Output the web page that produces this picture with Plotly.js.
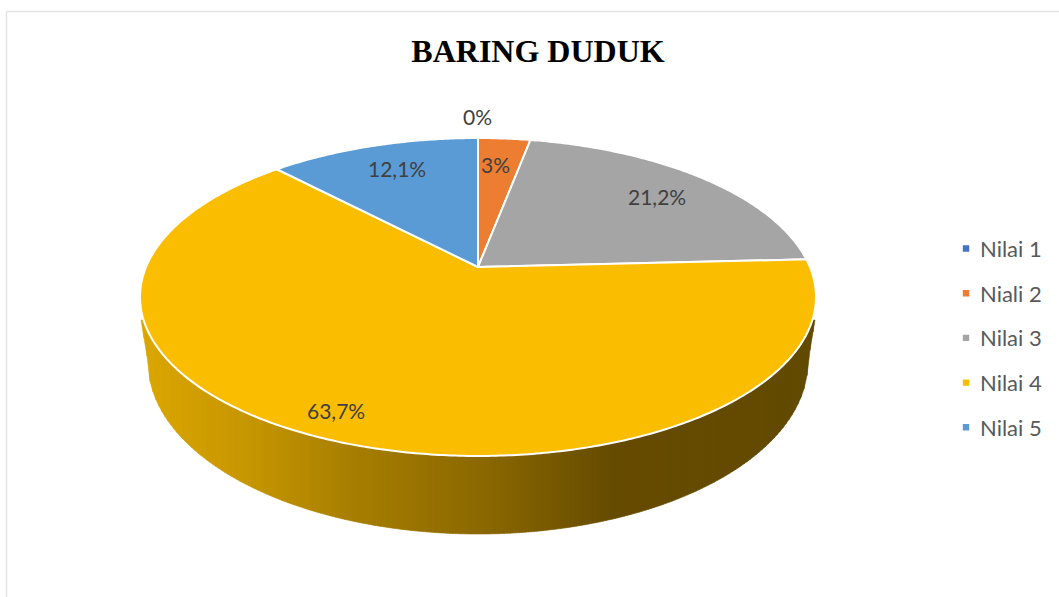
<!DOCTYPE html>
<html>
<head>
<meta charset="utf-8">
<script src="https://cdn.plot.ly/plotly-3.0.1.min.js"></script>
<style>html,body{margin:0;padding:0;background:#fff;overflow:hidden}#chart{width:1059px;height:597px}</style>
</head>
<body>
<div id="chart"></div>
<script>
// ---- data ----
var titleText = 'BARING DUDUK';
var categories = ['Nilai 1', 'Niali 2', 'Nilai 3', 'Nilai 4', 'Nilai 5'];
var percentages = [0, 3, 21.2, 63.7, 12.1];
var sliceColors = ['#4472C4', '#ED7D31', '#A5A5A5', '#FBBD00', '#5B9BD5'];

// ---- drawing constants (pixels) ----
var W = 1059, H = 597;
var apexX = 478, apexY = 267;      // where the slices meet
var persp = 0.1887, scaleY = 153.3, scaleX = 331.9;   // tilted-disc projection
var rimCy = 297, rimRx = 338, rimRy = 159;            // outline of the top face
var baseCy = 362, baseRx = 330, baseRy = 172;         // outline of the base
var wallEdgeX = 337, wallEdgeY = 320;
var wallStops = [[141,[220,167,0]],[250,[198,150,0]],[350,[168,127,0]],[480,[140,105,0]],
                 [560,[117,88,0]],[615,[101,75,0]],[815,[99,74,0]]];
var labelPos = [[477,116],[495,165],[657,196],[336,410],[397,168]];
var legendY = [248.5, 293.2, 337.9, 382.6, 427.3];

function px(x){ return x / W; }
function py(y){ return 1 - y / H; }
function project(theta){
  var x = Math.sin(theta), y = Math.cos(theta), d = 1 + persp * y;
  return [apexX + scaleX * x / d, apexY - scaleY * y / d];
}
function wallColor(x){
  for (var i = 1; i < wallStops.length; i++) {
    if (x <= wallStops[i][0]) {
      var a = wallStops[i-1], b = wallStops[i], t = (x - a[0]) / (b[0] - a[0]);
      return 'rgb(' + a[1].map(function(c, k){ return Math.round(c + (b[1][k] - c) * t); }).join(',') + ')';
    }
  }
  return 'rgb(' + wallStops[wallStops.length-1][1].join(',') + ')';
}
function wallTop(x){
  var dx = Math.abs(x - apexX);
  if (dx >= 334) return wallEdgeY;
  return rimCy + rimRy * Math.sqrt(1 - dx * dx / (rimRx * rimRx)) - 3;
}
function wallBottom(x){
  var dx = Math.abs(x - apexX);
  if (dx <= baseRx) return baseCy + baseRy * Math.sqrt(1 - dx * dx / (baseRx * baseRx));
  return baseCy + (wallEdgeY - baseCy) * Math.min(1, (dx - baseRx) / (wallEdgeX - baseRx));
}
function wallShapes(){
  var out = [], step = 3;
  for (var x = apexX - wallEdgeX; x < apexX + wallEdgeX; x += step) {
    var x2 = Math.min(x + step, apexX + wallEdgeX);
    var pts = [[x, wallTop(x)], [x2, wallTop(x2)], [x2, wallBottom(x2)], [x, wallBottom(x)]];
    var c = wallColor(x + step / 2);
    out.push({
      type: 'path', xref: 'paper', yref: 'paper', layer: 'below',
      path: 'M' + pts.map(function(p){ return px(p[0]) + ',' + py(p[1]); }).join('L') + 'Z',
      fillcolor: c, line: {color: c, width: 0.6}
    });
  }
  return out;
}
var frame = [
  {type:'line', xref:'paper', yref:'paper', x0:px(6.5), x1:1, y0:py(11.5), y1:py(11.5), line:{color:'#E4E4E4', width:1.5}},
  {type:'line', xref:'paper', yref:'paper', x0:px(6.5), x1:px(6.5), y0:py(11.5), y1:0, line:{color:'#E4E4E4', width:1.5}}
];
var labels = percentages.map(function(v, i){
  return {
    xref:'paper', yref:'paper', x:px(labelPos[i][0]), y:py(labelPos[i][1]),
    xanchor:'center', yanchor:'middle', showarrow:false,
    text: String(v).replace('.', ',') + '%',
    font:{family:'Lato, sans-serif', size:21, color:'#404040'}
  };
});

var trace = {
  type:'pie', labels:categories, values:percentages, sort:false, direction:'clockwise', rotation:0,
  marker:{colors:sliceColors, line:{color:'#FFFFFF', width:2}},
  textinfo:'none', domain:{x:[0.13,0.77], y:[0.2,0.8]}
};
var layout = {
  width:W, height:H, margin:{l:0,r:0,t:0,b:0},
  paper_bgcolor:'#FFFFFF',
  title:{text:titleText, x:px(538), xanchor:'center', y:py(50.5), yanchor:'middle',
         font:{family:'Liberation Serif, serif', size:32, color:'#000000', weight:700}},
  showlegend:true,
  legend:{x:px(900), y:py(230), xanchor:'left', yanchor:'top', bgcolor:'rgba(0,0,0,0)',
          font:{family:'Lato, sans-serif', size:22, color:'#595959'}},
  shapes: wallShapes().concat(frame),
  annotations: labels
};

Plotly.newPlot('chart', [trace], layout, {displayModeBar:false, responsive:false}).then(function(gd){
  var total = percentages.reduce(function(a, b){ return a + b; }, 0);
  // bend each slice the pie trace drew onto the tilted disc
  gd.querySelectorAll('.pielayer .slice').forEach(function(s){
    var path = s.querySelector('path.surface');
    var i = s.__data__ && s.__data__.i;
    if (!path || i === undefined) return;
    var before = percentages.slice(0, i).reduce(function(a, b){ return a + b; }, 0);
    var t0 = before / total * 2 * Math.PI, t1 = (before + percentages[i]) / total * 2 * Math.PI;
    var m = path.getCTM(), pts = [[apexX, apexY]], n = Math.max(2, Math.ceil((t1 - t0) / 0.01));
    for (var k = 0; k <= n; k++) pts.push(project(t0 + (t1 - t0) * k / n));
    path.setAttribute('d', 'M' + pts.map(function(p){
      return (p[0] - m.e).toFixed(2) + ',' + (p[1] - m.f).toFixed(2);
    }).join('L') + 'Z');
  });
  // spread the legend rows and set small square keys
  var lg = gd.querySelector('.legend');
  var sb = lg.querySelector('.scrollbox');
  lg.setAttribute('transform', 'translate(0,0)');
  if (sb) { sb.removeAttribute('clip-path'); sb.setAttribute('transform', 'translate(0,0)'); }
  lg.removeAttribute('clip-path');
  lg.querySelectorAll('.traces').forEach(function(t, i){
    t.setAttribute('transform', 'translate(946,' + legendY[i] + ')');
    var key = t.querySelector('.legendpoints path');
    if (key) key.setAttribute('d', 'M4.2,4.2H-4.2V-4.2H4.2Z');
    var tx = t.querySelector('text');
    if (tx) tx.setAttribute('x', 34);
  });
});
</script>
</body>
</html>
